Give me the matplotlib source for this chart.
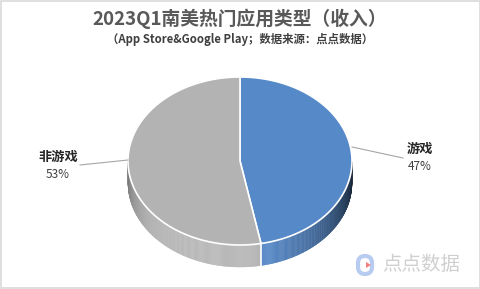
import numpy as np
import matplotlib
matplotlib.use("Agg")
import matplotlib.pyplot as plt
from matplotlib.patches import Polygon, FancyBboxPatch, Rectangle

plt.rcParams['font.family'] = ['Noto Sans CJK SC', 'DejaVu Sans']

# Data
categories = ["游戏", "非游戏"]
shares = [47, 53]
colors = ["#5689C8", "#B3B3B3"]
title = "2023Q1南美热门应用类型（收入）"
subtitle = "（App Store&Google Play；数据来源：点点数据）"

W, H = 481, 289
fig = plt.figure(figsize=(W / 100, H / 100), dpi=100)
ax = fig.add_axes([0, 0, 1, 1])
ax.set_xlim(0, W)
ax.set_ylim(H, 0)
ax.axis("off")

# frame
ax.add_patch(Rectangle((0.5, 0.5), W - 1.5, H - 1.5, fill=False, ec="#D9D9D9", lw=1.2))

cx, cy, rx, ry, depth = 240, 161, 112, 84, 22


def pt(theta_deg):
    t = np.radians(theta_deg)
    return cx + rx * np.sin(t), cy - ry * np.cos(t)


def shade(base, theta):
    rgb = np.array(matplotlib.colors.to_rgb(base))
    f = 0.45 + 0.65 * np.cos(np.radians(theta - 200))
    if f <= 1:
        return tuple(np.clip(rgb * max(f, 0.15), 0, 1))
    return tuple(np.clip(rgb + (1 - rgb) * (f - 1) * 0.8, 0, 1))


total = sum(shares)
bounds = [0]
for s in shares:
    bounds.append(bounds[-1] + 360 * s / total)

# side walls (only front half visible)
for i, col in enumerate(colors):
    a0, a1 = max(bounds[i], 90), min(bounds[i + 1], 270)
    if a1 <= a0:
        continue
    angs = np.linspace(a0, a1, int((a1 - a0) * 2) + 2)
    for u, v in zip(angs[:-1], angs[1:]):
        x0, y0 = pt(u)
        x1, y1 = pt(v)
        c = shade(col, (u + v) / 2)
        ax.add_patch(Polygon([(x0, y0), (x1, y1), (x1, y1 + depth), (x0, y0 + depth)],
                             closed=True, fc=c, ec=c, lw=0.3, zorder=2))

# boundary on the wall
for b in bounds[1:-1]:
    if 90 < b < 270:
        x, y = pt(b)
        ax.plot([x, x], [y, y + depth], color="white", lw=1.2, zorder=3)

# top faces
for i, col in enumerate(colors):
    angs = np.linspace(bounds[i], bounds[i + 1], 200)
    pts = [(cx, cy)] + [pt(a) for a in angs]
    ax.add_patch(Polygon(pts, closed=True, fc=col, ec="white", lw=1.2, zorder=4))

# labels with leader lines
ax.plot([352, 403], [147, 158], color="#A6A6A6", lw=0.8, zorder=5)
ax.plot([80, 128], [165, 160], color="#A6A6A6", lw=0.8, zorder=5)
label_pos = [(420, 149), (58, 157)]
for (lx, ly), name, s in zip(label_pos, categories, shares):
    ax.text(lx, ly, name, ha="center", va="center", fontsize=9.5, fontweight="bold",
            color="#262626")
    ax.text(lx, ly + 18, f"{s}%", ha="center", va="center", fontsize=8.5,
            color="#404040")

ax.text(240, 19, title, ha="center", va="center", fontsize=13.5, fontweight="bold",
        color="#595959")
ax.text(240, 40, subtitle, ha="center", va="center", fontsize=8.2, fontweight="bold",
        color="#404040")

# watermark logo
ax.add_patch(FancyBboxPatch((358, 256), 14, 18, boxstyle="round,pad=0,rounding_size=7",
                            fc="none", ec="#B8CCF2", lw=3, zorder=6))
ax.add_patch(Polygon([(366, 262), (371, 265), (366, 268)], closed=True, fc="#F08080",
                     ec="none", zorder=7))
ax.text(421, 265, "点点数据", ha="center", va="center", fontsize=14, color="#CFCFCF",
        zorder=6)

fig.savefig("out.png", dpi=100)
